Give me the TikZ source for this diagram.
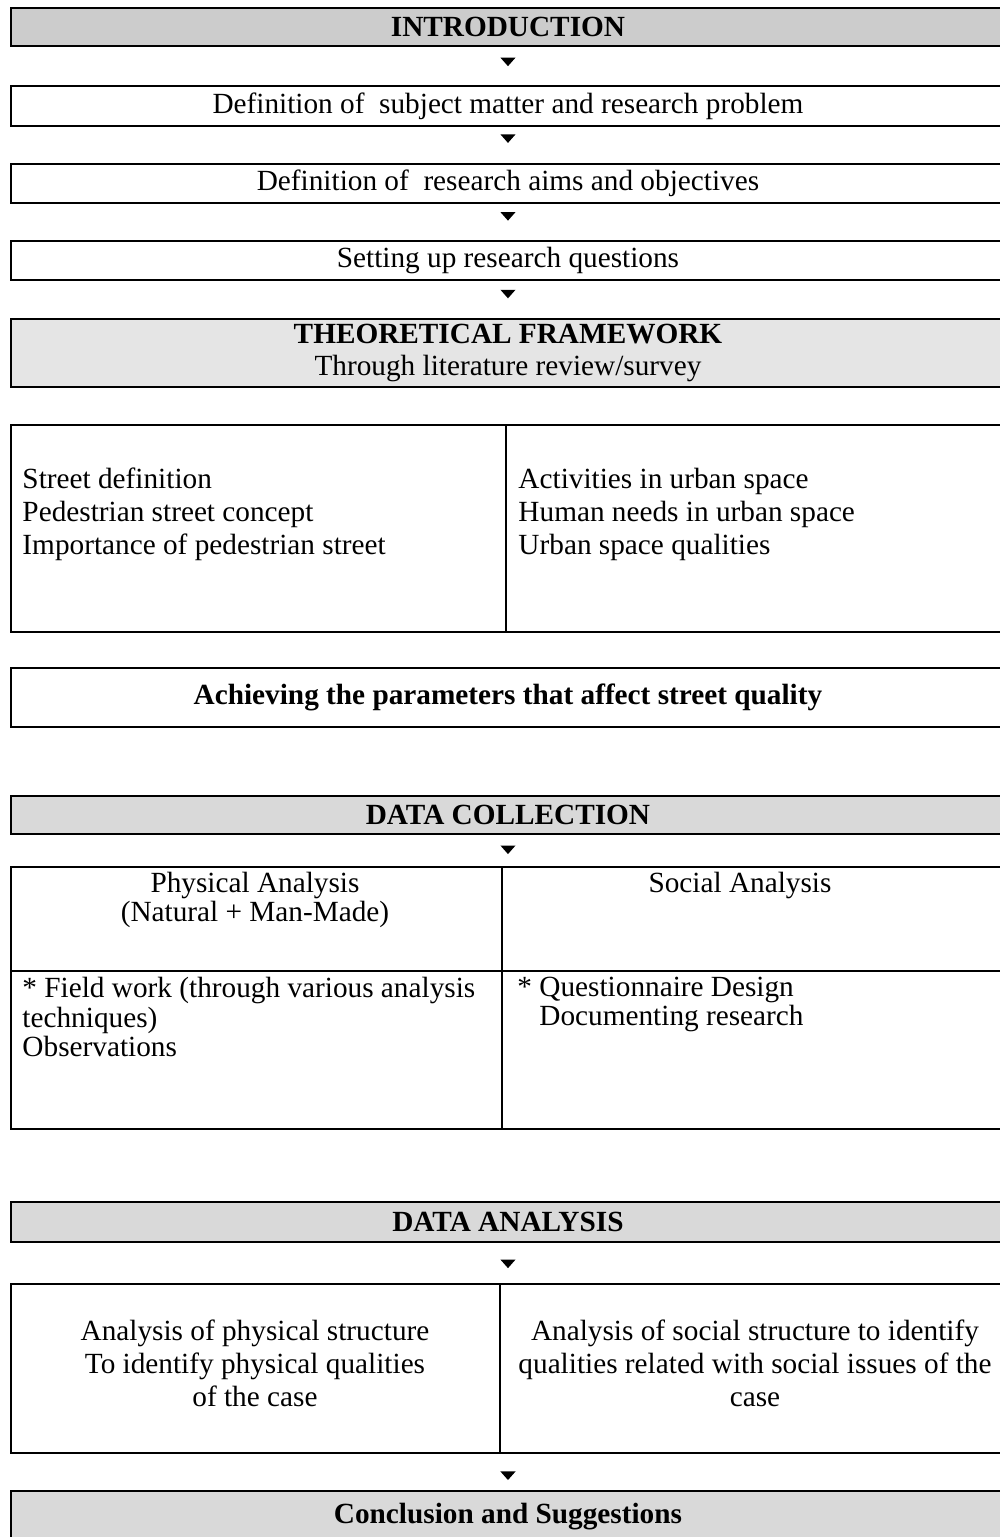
\documentclass[tikz,border=0pt]{standalone}
\usepackage{fontspec}
\setmainfont{Liberation Serif}
\usetikzlibrary{shapes.geometric}

\newcommand{\unitpx}{0.41pt}

\tikzset{
  every node/.style={font=\fontsize{12}{13.5}\selectfont},
  frame/.style 2 args={draw, line width=0.8pt, inner sep=0pt, anchor=north west,
    minimum width=#1*\unitpx, minimum height=#2*\unitpx},
  bar/.style={frame={994}{#1}},
  title/.style={bar=#1, fill=black!15, font=\fontsize{12}{13.5}\selectfont\bfseries},
  list/.style={align=left, inner sep=0pt, anchor=west},
  tip/.style={isosceles triangle, isosceles triangle stretches, shape border rotate=-90,
    fill=black, inner sep=0pt, minimum width=6.2pt, minimum height=3.5pt}
}

\begin{document}
\begin{tikzpicture}[x=0.41pt, y=-0.41pt]
  \clip (0,0) rectangle (1000,1537);

  \node[title=38, fill=black!20] (intro) at (10,7) {INTRODUCTION};
  \node[bar=40] (subject) at (10,85) {Definition of\ \ subject matter and research problem};
  \node[bar=39] (aims) at (10,163) {Definition of\ \ research aims and objectives};
  \node[bar=39] (questions) at (10,240) {Setting up research questions};
  \node[bar=68, fill=black!10, align=center] (theory) at (10,318)
    {\textbf{THEORETICAL FRAMEWORK}\\Through literature review/survey};

  \node[frame={495}{207}] (litL) at (10,424) {};
  \node[frame={499}{207}] (litR) at (505,424) {};
  \node[list, font=\fontsize{12}{13.53}\selectfont] (litLtxt) at (22,514)
    {Street definition\\Pedestrian street concept\\Importance of pedestrian street};
  \node[list, font=\fontsize{12}{13.53}\selectfont] (litRtxt) at (518,514)
    {Activities in urban space\\Human needs in urban space\\Urban space qualities};

  \node[bar=59, font=\fontsize{12}{13.5}\selectfont\bfseries] (params) at (10,667)
    {Achieving the parameters that affect street quality};

  % data collection table
  \node[title=38] (collect) at (10,795) {DATA COLLECTION};
  \node[frame={491}{104}] (physHead) at (10,866) {};
  \node[frame={503}{104}] (socHead) at (501,866) {};
  \node[frame={491}{158}] (physWork) at (10,970) {};
  \node[frame={503}{158}] (socWork) at (501,970) {};
  \node[align=center, inner sep=0pt, font=\fontsize{12}{11.9}\selectfont] (physTxt) at (255,900)
    {Physical Analysis\\(Natural + Man-Made)};
  \node[inner sep=0pt] (socTxt) at (740,885) {Social Analysis};
  \node[list, font=\fontsize{12}{11.9}\selectfont] (physWorkTxt) at (22,1017)
    {* Field work (through various analysis\\techniques)\\Observations};
  \node[list, font=\fontsize{12}{11.9}\selectfont] (socWorkTxt) at (517,1004)
    {* Questionnaire Design\\\phantom{* }Documenting research};

  % data analysis table
  \node[title=40] (analysis) at (10,1201) {DATA ANALYSIS};
  \node[frame={489}{169}] (physStruct) at (10,1283) {};
  \node[frame={505}{169}] (socStruct) at (499,1283) {};
  \node[align=center, inner sep=0pt, font=\fontsize{12}{13.53}\selectfont] (physStructTxt) at (255,1363)
    {Analysis of physical structure\\To identify physical qualities\\of the case};
  \node[align=center, inner sep=0pt, font=\fontsize{12}{13.53}\selectfont] (socStructTxt) at (755,1363)
    {Analysis of social structure to identify\\qualities related with social issues of the\\case};

  \node[title=52] (concl) at (10,1490) {Conclusion and Suggestions};

  % arrow marks between the steps
  \path (intro.south) -- (subject.north) node[tip, pos=0.37] (a1) {};
  \path (subject.south) -- (aims.north) node[tip, pos=0.3] (a2) {};
  \path (aims.south) -- (questions.north) node[tip, pos=0.32] (a3) {};
  \path (questions.south) -- (theory.north) node[tip, pos=0.33] (a4) {};
  \path (collect.south) -- (collect.south |- physHead.north) node[tip, pos=0.45] (a5) {};
  \path (analysis.south) -- (analysis.south |- physStruct.north) node[tip, pos=0.5] (a6) {};
  \path (concl.north |- physStruct.south) -- (concl.north) node[tip, pos=0.58] (a7) {};
\end{tikzpicture}
\end{document}
